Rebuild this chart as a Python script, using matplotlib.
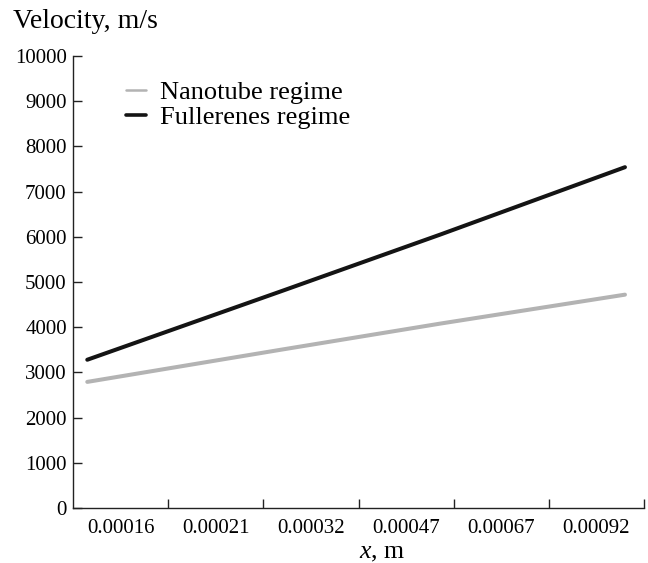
import matplotlib
matplotlib.use("Agg")
import matplotlib.pyplot as plt
from matplotlib.ticker import FixedLocator, NullFormatter

plt.rcParams['font.family'] = ['Liberation Serif', 'DejaVu Serif']
plt.rcParams['mathtext.fontset'] = 'custom'
plt.rcParams['mathtext.rm'] = 'Liberation Serif'
plt.rcParams['mathtext.it'] = 'Liberation Serif:italic'

# Data (x in category-axis units, 0..6)
x_labels = ["0.00016", "0.00021", "0.00032", "0.00047", "0.00067", "0.00092"]
x_pos = [0.15, 2.18, 3.86, 5.8]
nanotube = [2790, 3500, 4080, 4720]
fullerenes = [3280, 4790, 6050, 7540]
y_ticks = [0, 1000, 2000, 3000, 4000, 5000, 6000, 7000, 8000, 9000, 10000]

fig = plt.figure(figsize=(6.48, 5.63), dpi=100)
ax = fig.add_axes([73 / 648, 1 - 508 / 563, (644 - 73) / 648, (508 - 56) / 563])

ax.plot(x_pos, nanotube, color="#b3b3b3", lw=2.9, solid_capstyle="round",
        label="Nanotube regime")
ax.plot(x_pos, fullerenes, color="#141414", lw=2.9, solid_capstyle="round",
        label="Fullerenes regime")

ax.set_xlim(0, 6)
ax.set_ylim(0, 10000)

for s in ["top", "right"]:
    ax.spines[s].set_visible(False)
for s in ["left", "bottom"]:
    ax.spines[s].set_linewidth(1.0)
    ax.spines[s].set_color("#222222")

# x: ticks at category boundaries, labels centred between them
ax.xaxis.set_major_locator(FixedLocator([1, 2, 3, 4, 5, 6]))
ax.xaxis.set_major_formatter(NullFormatter())
ax.xaxis.set_minor_locator(FixedLocator([0.5, 1.5, 2.5, 3.5, 4.5, 5.5]))
ax.set_xticklabels(x_labels, minor=True)
ax.tick_params(axis="x", which="major", direction="in", length=6.5, width=1.0,
               color="#222222")
ax.tick_params(axis="x", which="minor", length=0, pad=8, labelsize=15)

ax.set_yticks(y_ticks)
ax.set_yticklabels([str(v) for v in y_ticks])
ax.tick_params(axis="y", direction="in", length=6.5, width=1.0, pad=4.5,
               labelsize=15, color="#222222")

fig.text(382 / 648, 1 - 558 / 563, "$x$, m", fontsize=18.5,
         ha="center", va="baseline")
fig.text(13 / 648, 1 - 22 / 563, "Velocity, m/s", fontsize=20,
         ha="left", va="center")

leg = ax.legend(loc="upper left", bbox_to_anchor=(126 / 648, 1 - 81 / 563),
                bbox_transform=fig.transFigure, frameon=False, fontsize=19,
                handlelength=0.76, handletextpad=0.53, labelspacing=0.05,
                borderpad=0, borderaxespad=0)
leg.get_lines()[0].set_linewidth(1.8)
leg.get_lines()[1].set_linewidth(2.6)

fig.savefig("out.png", dpi=100)
